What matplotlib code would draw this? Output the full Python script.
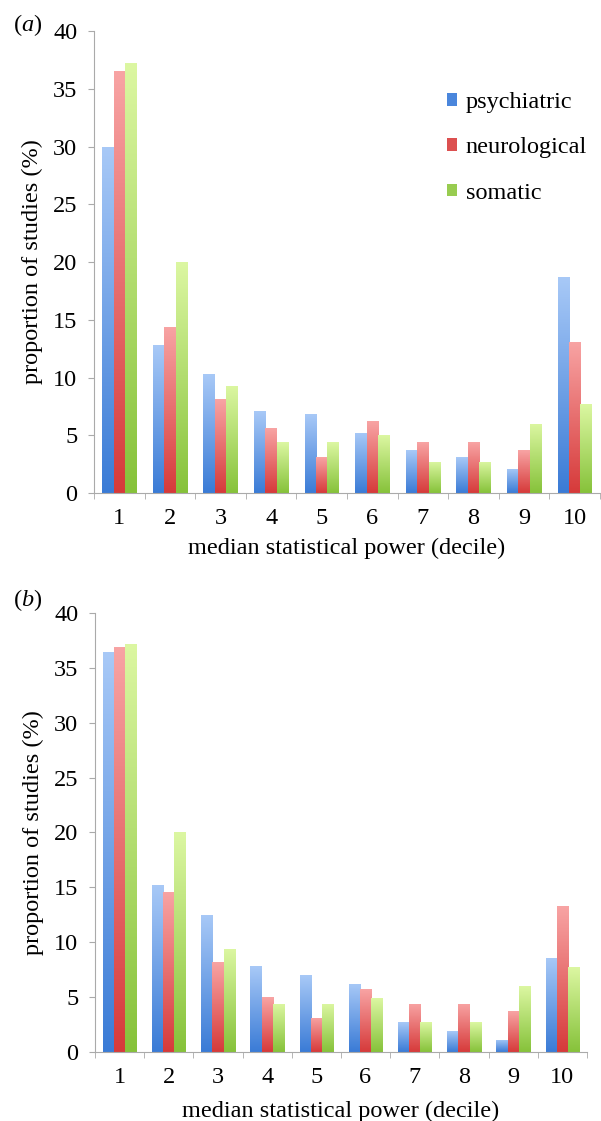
import numpy as np
import matplotlib
matplotlib.use("Agg")
import matplotlib.pyplot as plt
from matplotlib.colors import LinearSegmentedColormap
from matplotlib.patches import Patch

plt.rcParams['font.family'] = ['Liberation Serif', 'DejaVu Serif']
plt.rcParams['mathtext.fontset'] = 'custom'
plt.rcParams['mathtext.rm'] = 'Liberation Serif'
plt.rcParams['mathtext.it'] = 'Liberation Serif:italic'

# data
deciles = [1, 2, 3, 4, 5, 6, 7, 8, 9, 10]
series = ['psychiatric', 'neurological', 'somatic']

psych_a = [30.0, 12.8, 10.3, 7.1, 6.8, 5.2, 3.7, 3.1, 2.1, 18.7]
neuro_a = [36.5, 14.4, 8.1, 5.6, 3.1, 6.2, 4.4, 4.4, 3.7, 13.1]
somat_a = [37.2, 20.0, 9.3, 4.4, 4.4, 5.0, 2.7, 2.7, 6.0, 7.7]

psych_b = [36.4, 15.2, 12.5, 7.8, 7.0, 6.2, 2.7, 1.9, 1.1, 8.6]
neuro_b = [36.9, 14.6, 8.2, 5.0, 3.1, 5.7, 4.4, 4.4, 3.7, 13.3]
somat_b = [37.2, 20.0, 9.4, 4.4, 4.4, 4.9, 2.7, 2.7, 6.0, 7.7]

# bottom colour, top colour
grads = [('#3a7bd6', '#a8c9f7'),
         ('#d63a3a', '#f8a4a4'),
         ('#86c23a', '#dcf7a2')]
legend_cols = ['#4a86dc', '#dc5050', '#98cc50']

fs = 17.5

fig = plt.figure(figsize=(6.01, 11.21), dpi=100)
ax_a = fig.add_axes([0.1564, 0.5602, 0.842, 0.4121])
ax_b = fig.add_axes([0.158, 0.0616, 0.8186, 0.3916])

width = 0.226
offsets = [-width, 0, width]
grad = np.linspace(0, 1, 256).reshape(-1, 1)


def draw_panel(ax, data, tag, tag_y, xpad):
    x = np.array(deciles, dtype=float)
    for vals, off, (c0, c1) in zip(data, offsets, grads):
        cmap = LinearSegmentedColormap.from_list('g', [c0, c1])
        bars = ax.bar(x + off, vals, width, color='none', edgecolor='none')
        for b in bars:
            x0, y0 = b.get_x(), b.get_y()
            w, h = b.get_width(), b.get_height()
            im = ax.imshow(grad, cmap=cmap, origin='lower', aspect='auto',
                           extent=(x0, x0 + w, y0, y0 + h), zorder=2)
            im.set_clip_path(b)
    ax.set_xlim(0.5, 10.5)
    ax.set_ylim(0, 40)
    ax.set_yticks(range(0, 41, 5))
    ax.set_xticks(deciles)
    ax.set_xticks(np.arange(0.5, 10.6, 1), minor=True)
    ax.tick_params(axis='x', which='major', length=0, pad=11, labelsize=fs)
    ax.tick_params(axis='x', which='minor', length=4, color='#aaaaaa')
    ax.tick_params(axis='y', length=4, color='#aaaaaa', pad=8, labelsize=fs)
    for s in ['top', 'right']:
        ax.spines[s].set_visible(False)
    for s in ['left', 'bottom']:
        ax.spines[s].set_color('#aaaaaa')
    ax.set_ylabel('proportion of studies (%)', fontsize=fs, labelpad=7)
    ax.set_xlabel('median statistical power (decile)', fontsize=fs, labelpad=xpad)
    fig.text(0.022, tag_y, r'($\mathit{' + tag + r'}$)',
             fontsize=fs, ha='left', va='center')


draw_panel(ax_a, [psych_a, neuro_a, somat_a], 'a', 0.978, 6)
draw_panel(ax_b, [psych_b, neuro_b, somat_b], 'b', 0.465, 9)

handles = [Patch(facecolor=c, edgecolor='none') for c in legend_cols]
ax_a.legend(handles, series, loc='upper left', bbox_to_anchor=(0.698, 0.868),
            frameon=False, fontsize=fs, handlelength=0.42, handleheight=0.42,
            handletextpad=0.35, labelspacing=1.0, borderpad=0,
            borderaxespad=0)

fig.savefig('out.png', dpi=100)
